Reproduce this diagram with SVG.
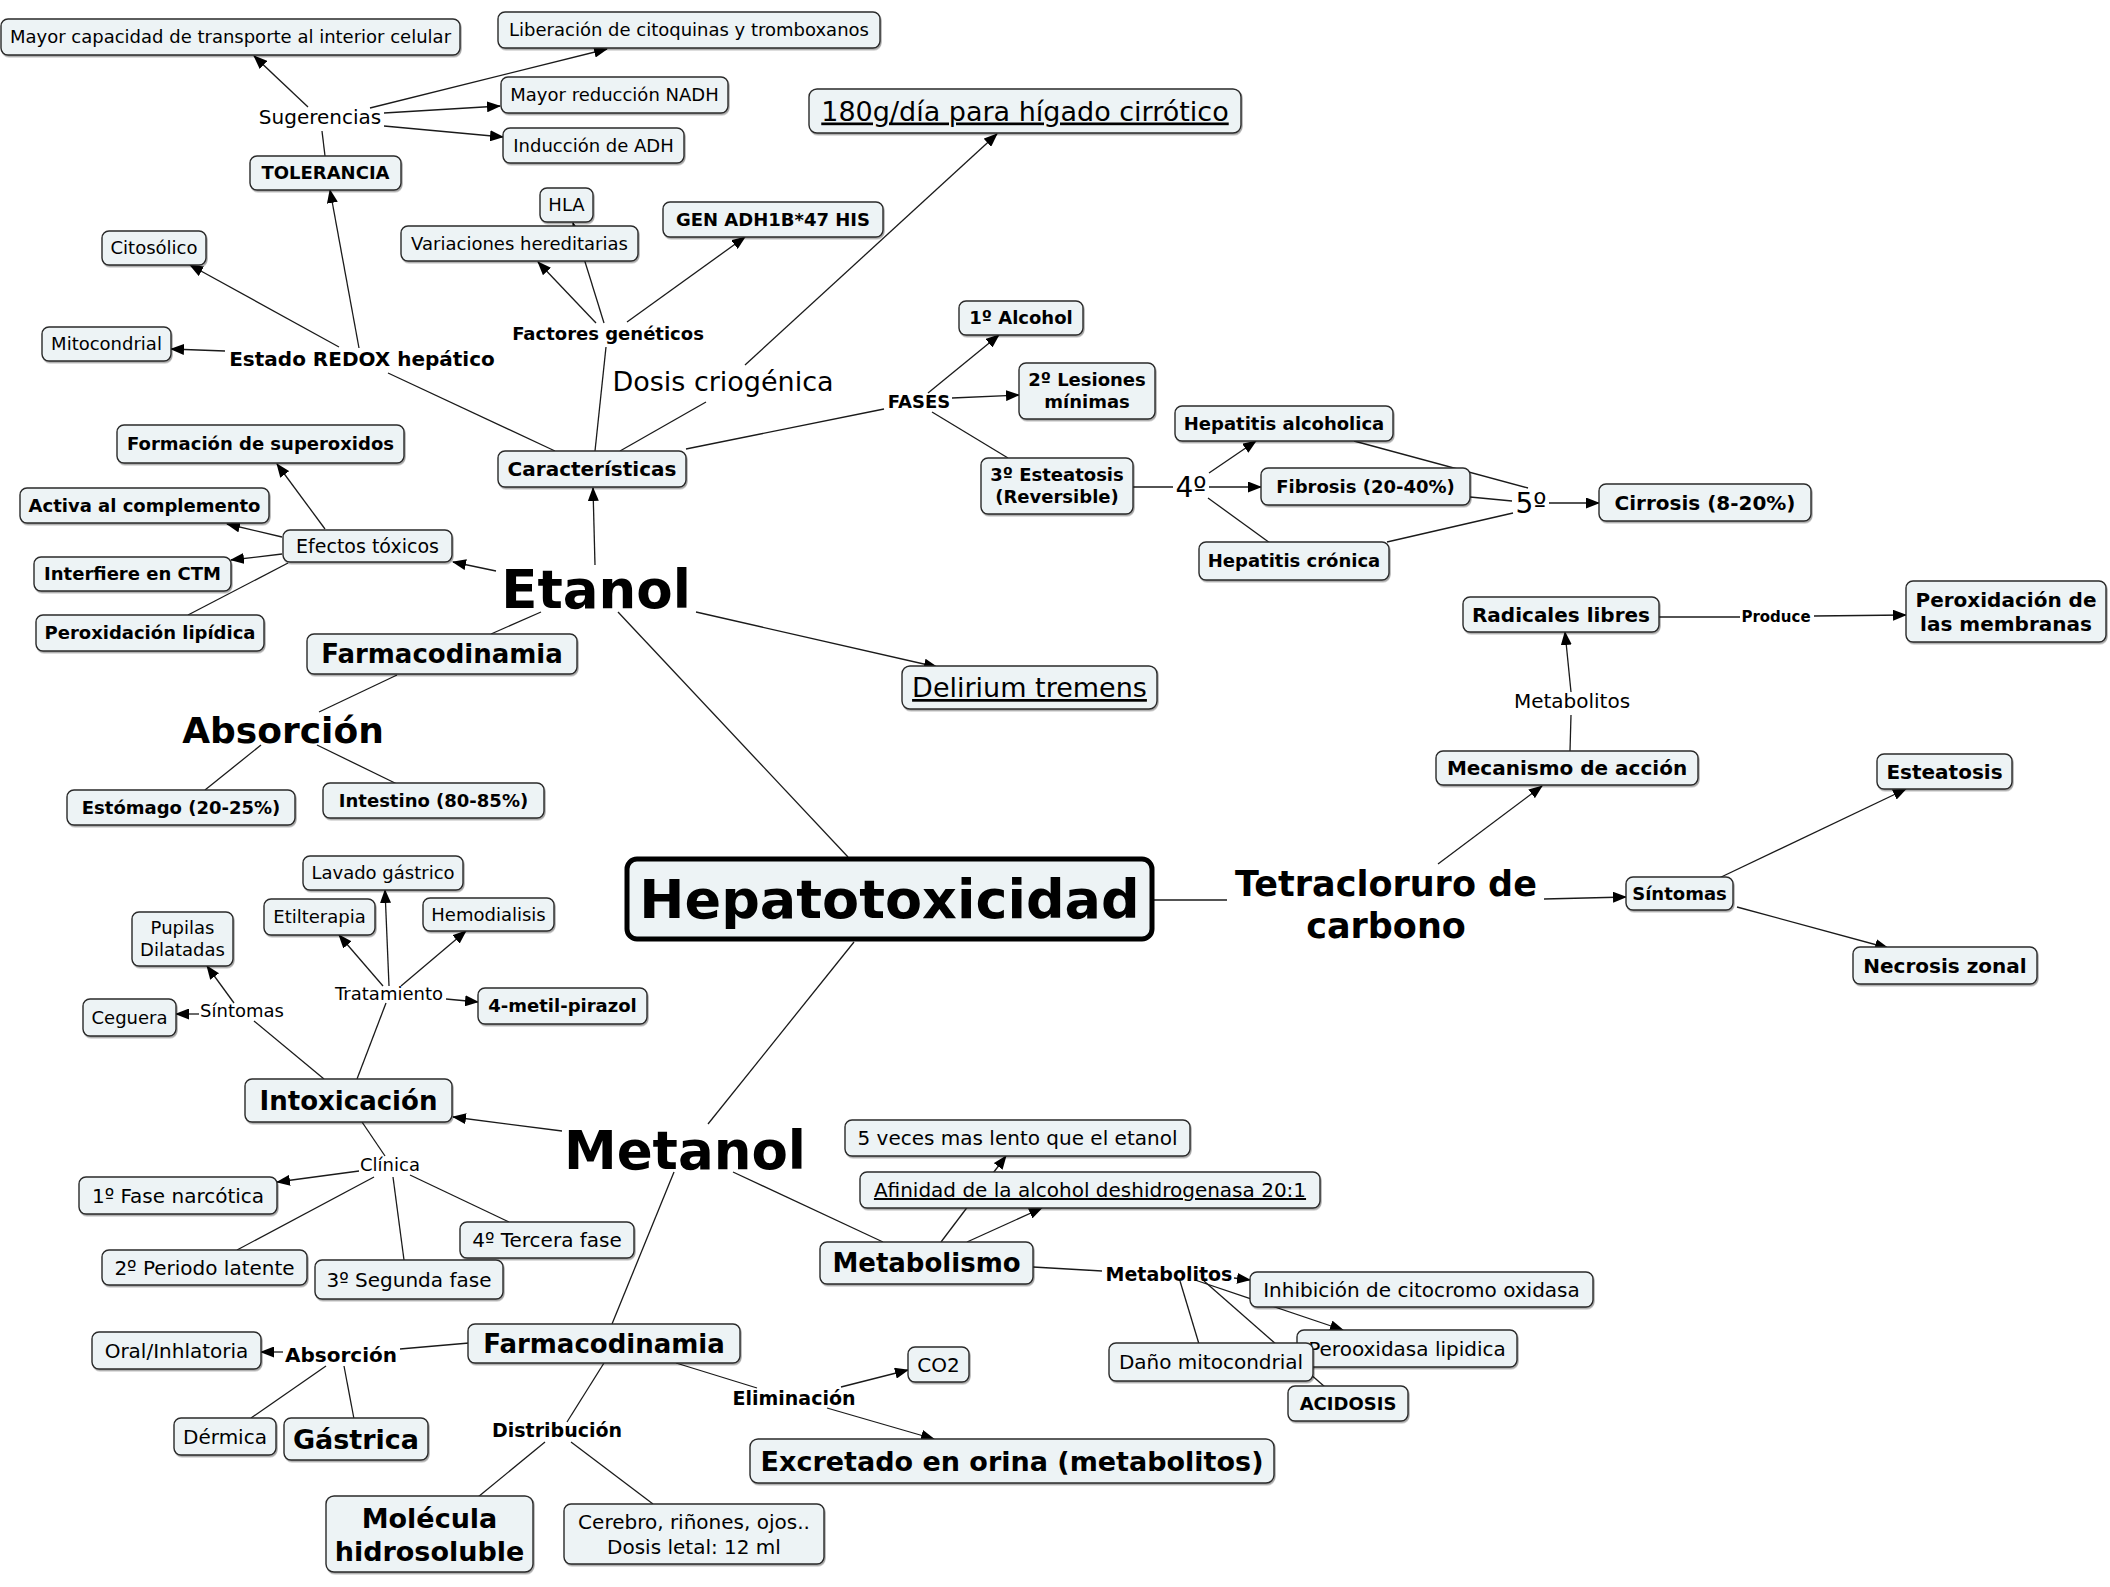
<svg xmlns="http://www.w3.org/2000/svg" width="2110" height="1587" viewBox="0 0 2110 1587">
<defs>
<marker id="ah" markerUnits="userSpaceOnUse" markerWidth="14" markerHeight="11" refX="13" refY="5.5" orient="auto"><path d="M0,0 L14,5.5 L0,11 z" fill="#000"/></marker>
<filter id="sh" x="-5%" y="-10%" width="110%" height="130%"><feDropShadow dx="1" dy="1.5" stdDeviation="0.7" flood-color="#000" flood-opacity="0.35"/></filter>
<style>
text{font-family:"DejaVu Sans",Verdana,sans-serif;text-anchor:middle;fill:#000}
.bx{fill:#edf3f5;stroke:#2a2a2a;stroke-width:1.4;filter:url(#sh)}
.main{fill:#edf3f5;stroke:#000;stroke-width:5}
.c line{stroke:#1a1a1a;stroke-width:1.3;fill:none}
.c line.a{marker-end:url(#ah)}
.r18{font-size:18px}.r19{font-size:19px}.r20{font-size:20px}.r27{font-size:27px}.r28{font-size:28px}
.b15{font-size:15px;font-weight:bold}.b18{font-size:18px;font-weight:bold}.b19{font-size:19px;font-weight:bold}.b20{font-size:20px;font-weight:bold}
.b26{font-size:26px;font-weight:bold}.b27{font-size:27px;font-weight:bold}.b35{font-size:35px;font-weight:bold}.b36{font-size:36px;font-weight:bold}
.b53{font-size:53px;font-weight:bold}.b54{font-size:54px;font-weight:bold}
.u{text-decoration:underline}
</style>
</defs>
<rect width="2110" height="1587" fill="#fff"/>
<g id="connectors" class="c">
<line x1="848" y1="857" x2="618" y2="612"/>
<line x1="854" y1="942" x2="708" y2="1124"/>
<line x1="1153" y1="900" x2="1227" y2="900"/>
<line x1="541" y1="612" x2="491" y2="634"/>
<line x1="397" y1="675" x2="319" y2="712"/>
<line x1="261" y1="745" x2="205" y2="790"/>
<line x1="317" y1="745" x2="397" y2="784"/>
<line x1="288" y1="563" x2="188" y2="615"/>
<line x1="555" y1="451" x2="388" y2="373"/>
<line x1="595" y1="451" x2="606" y2="347"/>
<line x1="620" y1="451" x2="706" y2="402"/>
<line x1="686" y1="449" x2="884" y2="409"/>
<line x1="325" y1="156" x2="322" y2="131"/>
<line x1="932" y1="412" x2="1008" y2="458"/>
<line x1="1133" y1="487" x2="1173" y2="487"/>
<line x1="1208" y1="498" x2="1270" y2="543"/>
<line x1="1354" y1="441" x2="1528" y2="488"/>
<line x1="1470" y1="497" x2="1512" y2="501"/>
<line x1="1387" y1="542" x2="1513" y2="513"/>
<line x1="1570" y1="751" x2="1571" y2="715"/>
<line x1="1659" y1="617" x2="1740" y2="617"/>
<line x1="733" y1="1172" x2="883" y2="1242"/>
<line x1="674" y1="1172" x2="612" y2="1324"/>
<line x1="324" y1="1079" x2="254" y2="1021"/>
<line x1="357" y1="1079" x2="386" y2="1003"/>
<line x1="362" y1="1122" x2="385" y2="1156"/>
<line x1="374" y1="1177" x2="237" y2="1250"/>
<line x1="393" y1="1177" x2="404" y2="1260"/>
<line x1="410" y1="1175" x2="509" y2="1222"/>
<line x1="1033" y1="1267" x2="1102" y2="1271"/>
<line x1="1180" y1="1281" x2="1199" y2="1344"/>
<line x1="1204" y1="1281" x2="1325" y2="1387"/>
<line x1="469" y1="1343" x2="400" y2="1349"/>
<line x1="326" y1="1366" x2="251" y2="1418"/>
<line x1="344" y1="1366" x2="354" y2="1419"/>
<line x1="604" y1="1363" x2="567" y2="1422"/>
<line x1="545" y1="1442" x2="478" y2="1497"/>
<line x1="571" y1="1442" x2="653" y2="1504"/>
<line x1="676" y1="1363" x2="757" y2="1388"/>
<line class="a" x1="595" y1="565" x2="593" y2="488"/>
<line class="a" x1="496" y1="571" x2="453" y2="562"/>
<line class="a" x1="696" y1="612" x2="937" y2="667"/>
<line class="a" x1="745" y1="365" x2="997" y2="134"/>
<line class="a" x1="596" y1="323" x2="538" y2="262"/>
<line class="a" x1="604" y1="323" x2="573" y2="223"/>
<line class="a" x1="627" y1="322" x2="745" y2="237"/>
<line class="a" x1="359" y1="348" x2="330" y2="190"/>
<line class="a" x1="339" y1="347" x2="190" y2="265"/>
<line class="a" x1="225" y1="351" x2="171" y2="349"/>
<line class="a" x1="308" y1="107" x2="254" y2="56"/>
<line class="a" x1="370" y1="108" x2="607" y2="49"/>
<line class="a" x1="384" y1="113" x2="500" y2="106"/>
<line class="a" x1="384" y1="126" x2="503" y2="137"/>
<line class="a" x1="325" y1="529" x2="277" y2="464"/>
<line class="a" x1="282" y1="537" x2="227" y2="524"/>
<line class="a" x1="282" y1="554" x2="231" y2="560"/>
<line class="a" x1="928" y1="393" x2="999" y2="335"/>
<line class="a" x1="952" y1="398" x2="1019" y2="395"/>
<line class="a" x1="1209" y1="473" x2="1256" y2="441"/>
<line class="a" x1="1209" y1="487" x2="1261" y2="487"/>
<line class="a" x1="1549" y1="503" x2="1599" y2="503"/>
<line class="a" x1="1438" y1="864" x2="1542" y2="786"/>
<line class="a" x1="1544" y1="899" x2="1626" y2="897"/>
<line class="a" x1="1571" y1="692" x2="1565" y2="632"/>
<line class="a" x1="1814" y1="616" x2="1906" y2="615"/>
<line class="a" x1="1717" y1="879" x2="1906" y2="789"/>
<line class="a" x1="1737" y1="907" x2="1888" y2="948"/>
<line class="a" x1="562" y1="1131" x2="453" y2="1117"/>
<line class="a" x1="234" y1="1003" x2="207" y2="966"/>
<line class="a" x1="199" y1="1014" x2="176" y2="1014"/>
<line class="a" x1="383" y1="986" x2="339" y2="935"/>
<line class="a" x1="389" y1="986" x2="385" y2="890"/>
<line class="a" x1="401" y1="986" x2="466" y2="931"/>
<line class="a" x1="446" y1="999" x2="478" y2="1002"/>
<line class="a" x1="359" y1="1171" x2="277" y2="1182"/>
<line class="a" x1="967" y1="1242" x2="1042" y2="1208"/>
<line class="a" x1="941" y1="1242" x2="1006" y2="1156"/>
<line class="a" x1="1234" y1="1278" x2="1250" y2="1280"/>
<line class="a" x1="1195" y1="1280" x2="1343" y2="1330"/>
<line class="a" x1="283" y1="1352" x2="261" y2="1352"/>
<line class="a" x1="841" y1="1387" x2="908" y2="1370"/>
<line class="a" x1="827" y1="1408" x2="934" y2="1439"/>
</g>
<g id="n1"><rect class="bx" x="1" y="19" width="459" height="36" rx="7"/><text class="r18" x="230.5" y="43.3">Mayor capacidad de transporte al interior celular</text></g>
<g id="n2"><rect class="bx" x="498" y="12" width="382" height="36" rx="7"/><text class="r18" x="689" y="36.3">Liberación de citoquinas y tromboxanos</text></g>
<g id="n3"><rect class="bx" x="501" y="77" width="227" height="36" rx="7"/><text class="r18" x="614.5" y="101.3">Mayor reducción NADH</text></g>
<g id="n4"><rect class="bx" x="503" y="128" width="181" height="35" rx="7"/><text class="r18" x="593.5" y="151.8">Inducción de ADH</text></g>
<g id="n5"><text class="r20" x="320" y="124">Sugerencias</text></g>
<g id="n6"><rect class="bx" x="250" y="156" width="151" height="34" rx="7"/><text class="b18" x="325.5" y="179.3">TOLERANCIA</text></g>
<g id="n7"><rect class="bx" x="540" y="188" width="53" height="34" rx="7"/><text class="r18" x="566.5" y="211.3">HLA</text></g>
<g id="n8"><rect class="bx" x="401" y="226" width="237" height="35" rx="7"/><text class="r18" x="519.5" y="249.8">Variaciones hereditarias</text></g>
<g id="n9"><rect class="bx" x="663" y="202" width="220" height="35" rx="7"/><text class="b18" x="773" y="225.8">GEN ADH1B*47 HIS</text></g>
<g id="n10"><rect class="bx" x="809" y="89" width="432" height="44" rx="8"/><text class="r27 u" x="1025" y="120.5">180g/día para hígado cirrótico</text></g>
<g id="n11"><rect class="bx" x="102" y="231" width="104" height="34" rx="7"/><text class="r18" x="154" y="254.3">Citosólico</text></g>
<g id="n12"><rect class="bx" x="42" y="327" width="129" height="34" rx="7"/><text class="r18" x="106.5" y="350.3">Mitocondrial</text></g>
<g id="n13"><text class="b20" x="362" y="366">Estado REDOX hepático</text></g>
<g id="n14"><text class="b18" x="608" y="340.3">Factores genéticos</text></g>
<g id="n15"><text class="r27" x="723" y="390.5">Dosis criogénica</text></g>
<g id="n16"><text class="b18" x="919" y="408.3">FASES</text></g>
<g id="n17"><rect class="bx" x="959" y="301" width="124" height="34" rx="7"/><text class="b18" x="1021" y="324.3">1º Alcohol</text></g>
<g id="n18"><rect class="bx" x="1019" y="363" width="136" height="56" rx="7"/><text class="b18" x="1087" y="386.3">2º Lesiones</text><text class="b18" x="1087" y="408.3">mínimas</text></g>
<g id="n19"><rect class="bx" x="981" y="458" width="152" height="56" rx="7"/><text class="b18" x="1057" y="481.3">3º Esteatosis</text><text class="b18" x="1057" y="503.3">(Reversible)</text></g>
<g id="n20"><text class="r28" x="1191" y="497">4º</text></g>
<g id="n21"><rect class="bx" x="1175" y="406" width="218" height="35" rx="7"/><text class="b18" x="1284" y="429.8">Hepatitis alcoholica</text></g>
<g id="n22"><rect class="bx" x="1261" y="468" width="209" height="37" rx="7"/><text class="b18" x="1365.5" y="492.8">Fibrosis (20-40%)</text></g>
<g id="n23"><rect class="bx" x="1199" y="542" width="190" height="38" rx="7"/><text class="b18" x="1294" y="567.3">Hepatitis crónica</text></g>
<g id="n24"><text class="r28" x="1531" y="513">5º</text></g>
<g id="n25"><rect class="bx" x="1599" y="484" width="212" height="37" rx="7"/><text class="b20" x="1705" y="509.5">Cirrosis (8-20%)</text></g>
<g id="n26"><rect class="bx" x="498" y="451" width="188" height="36" rx="7"/><text class="b20" x="592" y="476">Características</text></g>
<g id="n27"><rect class="bx" x="117" y="425" width="287" height="38" rx="7"/><text class="b18" x="260.5" y="450.3">Formación de superoxidos</text></g>
<g id="n28"><rect class="bx" x="20" y="488" width="249" height="35" rx="7"/><text class="b18" x="144.5" y="511.8">Activa al complemento</text></g>
<g id="n29"><rect class="bx" x="34" y="557" width="197" height="34" rx="7"/><text class="b18" x="132.5" y="580.3">Interfiere en CTM</text></g>
<g id="n30"><rect class="bx" x="36" y="615" width="228" height="36" rx="7"/><text class="b18" x="150" y="639.3">Peroxidación lipídica</text></g>
<g id="n31"><rect class="bx" x="283" y="530" width="169" height="32" rx="7"/><text class="r19" x="367.5" y="552.7">Efectos tóxicos</text></g>
<g id="n32"><text class="b53" x="596" y="608">Etanol</text></g>
<g id="n33"><rect class="bx" x="307" y="634" width="270" height="40" rx="7"/><text class="b26" x="442" y="663">Farmacodinamia</text></g>
<g id="n34"><text class="b36" x="283" y="743">Absorción</text></g>
<g id="n35"><rect class="bx" x="67" y="790" width="228" height="35" rx="7"/><text class="b18" x="181" y="813.8">Estómago (20-25%)</text></g>
<g id="n36"><rect class="bx" x="323" y="783" width="221" height="35" rx="7"/><text class="b18" x="433.5" y="806.8">Intestino (80-85%)</text></g>
<g id="n37"><rect class="bx" x="902" y="666" width="255" height="43" rx="8"/><text class="r27 u" x="1029.5" y="697">Delirium tremens</text></g>
<g id="n38"><rect class="bx" x="1463" y="597" width="196" height="35" rx="7"/><text class="b20" x="1561" y="621.5">Radicales libres</text></g>
<g id="n39"><text class="b15" x="1776" y="621.5">Produce</text></g>
<g id="n40"><rect class="bx" x="1906" y="581" width="200" height="61" rx="7"/><text class="b20" x="2006" y="606.5">Peroxidación de</text><text class="b20" x="2006" y="630.5">las membranas</text></g>
<g id="n41"><text class="r20" x="1572" y="708">Metabolitos</text></g>
<g id="n42"><rect class="bx" x="1436" y="751" width="262" height="34" rx="7"/><text class="b20" x="1567" y="775">Mecanismo de acción</text></g>
<g id="n43"><rect class="bx" x="1877" y="754" width="135" height="35" rx="7"/><text class="b20" x="1944.5" y="778.5">Esteatosis</text></g>
<g id="n44"><text class="b35" x="1386" y="896">Tetracloruro de</text><text class="b35" x="1386" y="938">carbono</text></g>
<g id="n45"><rect class="bx" x="1626" y="877" width="107" height="33" rx="7"/><text class="b18" x="1679.5" y="899.8">Síntomas</text></g>
<g id="n46"><rect class="bx" x="1853" y="947" width="184" height="37" rx="7"/><text class="b20" x="1945" y="972.5">Necrosis zonal</text></g>
<g id="n47"><rect class="main" x="627" y="859" width="525" height="80" rx="10"/><text class="b54" x="889.5" y="918">Hepatotoxicidad</text></g>
<g id="n48"><rect class="bx" x="303" y="856" width="160" height="34" rx="7"/><text class="r18" x="383" y="879.3">Lavado gástrico</text></g>
<g id="n49"><rect class="bx" x="264" y="899" width="111" height="36" rx="7"/><text class="r18" x="319.5" y="923.3">Etilterapia</text></g>
<g id="n50"><rect class="bx" x="423" y="898" width="131" height="33" rx="7"/><text class="r18" x="488.5" y="920.8">Hemodialisis</text></g>
<g id="n51"><rect class="bx" x="132" y="912" width="101" height="54" rx="7"/><text class="r18" x="182.5" y="934.3">Pupilas</text><text class="r18" x="182.5" y="956.3">Dilatadas</text></g>
<g id="n52"><text class="r18" x="389" y="1000.3">Tratamiento</text></g>
<g id="n53"><rect class="bx" x="478" y="988" width="169" height="36" rx="7"/><text class="b18" x="562.5" y="1012.3">4-metil-pirazol</text></g>
<g id="n54"><rect class="bx" x="83" y="999" width="93" height="37" rx="7"/><text class="r18" x="129.5" y="1023.8">Ceguera</text></g>
<g id="n55"><text class="r18" x="242" y="1017.3">Síntomas</text></g>
<g id="n56"><rect class="bx" x="245" y="1079" width="207" height="43" rx="7"/><text class="b26" x="348.5" y="1109.5">Intoxicación</text></g>
<g id="n57"><text class="r18" x="390" y="1171.3">Clínica</text></g>
<g id="n58"><rect class="bx" x="79" y="1177" width="198" height="37" rx="7"/><text class="r20" x="178" y="1202.5">1º Fase narcótica</text></g>
<g id="n59"><rect class="bx" x="460" y="1222" width="174" height="36" rx="7"/><text class="r20" x="547" y="1247">4º Tercera fase</text></g>
<g id="n60"><rect class="bx" x="102" y="1250" width="205" height="35" rx="7"/><text class="r20" x="204.5" y="1274.5">2º Periodo latente</text></g>
<g id="n61"><rect class="bx" x="315" y="1260" width="188" height="39" rx="7"/><text class="r20" x="409" y="1286.5">3º Segunda fase</text></g>
<g id="n62"><text class="b53" x="685" y="1169">Metanol</text></g>
<g id="n63"><rect class="bx" x="845" y="1120" width="345" height="36" rx="7"/><text class="r20" x="1017.5" y="1145">5 veces mas lento que el etanol</text></g>
<g id="n64"><rect class="bx" x="860" y="1172" width="460" height="36" rx="7"/><text class="r20 u" x="1090" y="1197">Afinidad de la alcohol deshidrogenasa 20:1</text></g>
<g id="n65"><rect class="bx" x="820" y="1242" width="213" height="42" rx="7"/><text class="b26" x="926.5" y="1272">Metabolismo</text></g>
<g id="n66"><text class="b19" x="1169" y="1281">Metabolitos</text></g>
<g id="n67"><rect class="bx" x="1250" y="1272" width="343" height="35" rx="7"/><text class="r20" x="1421.5" y="1296.5">Inhibición de citocromo oxidasa</text></g>
<g id="n68"><rect class="bx" x="1297" y="1330" width="220" height="37" rx="7"/><text class="r20" x="1407" y="1355.5">Perooxidasa lipidica</text></g>
<g id="n69"><rect class="bx" x="1109" y="1343" width="204" height="38" rx="7"/><text class="r20" x="1211" y="1369">Daño mitocondrial</text></g>
<g id="n70"><rect class="bx" x="1288" y="1386" width="120" height="35" rx="7"/><text class="b18" x="1348" y="1409.8">ACIDOSIS</text></g>
<g id="n71"><rect class="bx" x="468" y="1324" width="272" height="39" rx="7"/><text class="b26" x="604" y="1352.5">Farmacodinamia</text></g>
<g id="n72"><rect class="bx" x="92" y="1332" width="169" height="37" rx="7"/><text class="r20" x="176.5" y="1357.5">Oral/Inhlatoria</text></g>
<g id="n73"><text class="b20" x="341" y="1362">Absorción</text></g>
<g id="n74"><rect class="bx" x="174" y="1418" width="102" height="37" rx="7"/><text class="r20" x="225" y="1443.5">Dérmica</text></g>
<g id="n75"><rect class="bx" x="284" y="1418" width="144" height="42" rx="7"/><text class="b27" x="356" y="1448.5">Gástrica</text></g>
<g id="n76"><text class="b19" x="557" y="1437">Distribución</text></g>
<g id="n77"><rect class="bx" x="326" y="1496" width="207" height="76" rx="8"/><text class="b27" x="429.5" y="1527.5">Molécula</text><text class="b27" x="429.5" y="1560.5">hidrosoluble</text></g>
<g id="n78"><rect class="bx" x="564" y="1504" width="260" height="60" rx="7"/><text class="r20" x="694" y="1529">Cerebro, riñones, ojos..</text><text class="r20" x="694" y="1554">Dosis letal: 12 ml</text></g>
<g id="n79"><text class="b19" x="794" y="1405">Eliminación</text></g>
<g id="n80"><rect class="bx" x="908" y="1347" width="61" height="35" rx="7"/><text class="r20" x="938.5" y="1371.5">CO2</text></g>
<g id="n81"><rect class="bx" x="750" y="1439" width="524" height="44" rx="8"/><text class="b27" x="1012" y="1470.5">Excretado en orina (metabolitos)</text></g>
</svg>
